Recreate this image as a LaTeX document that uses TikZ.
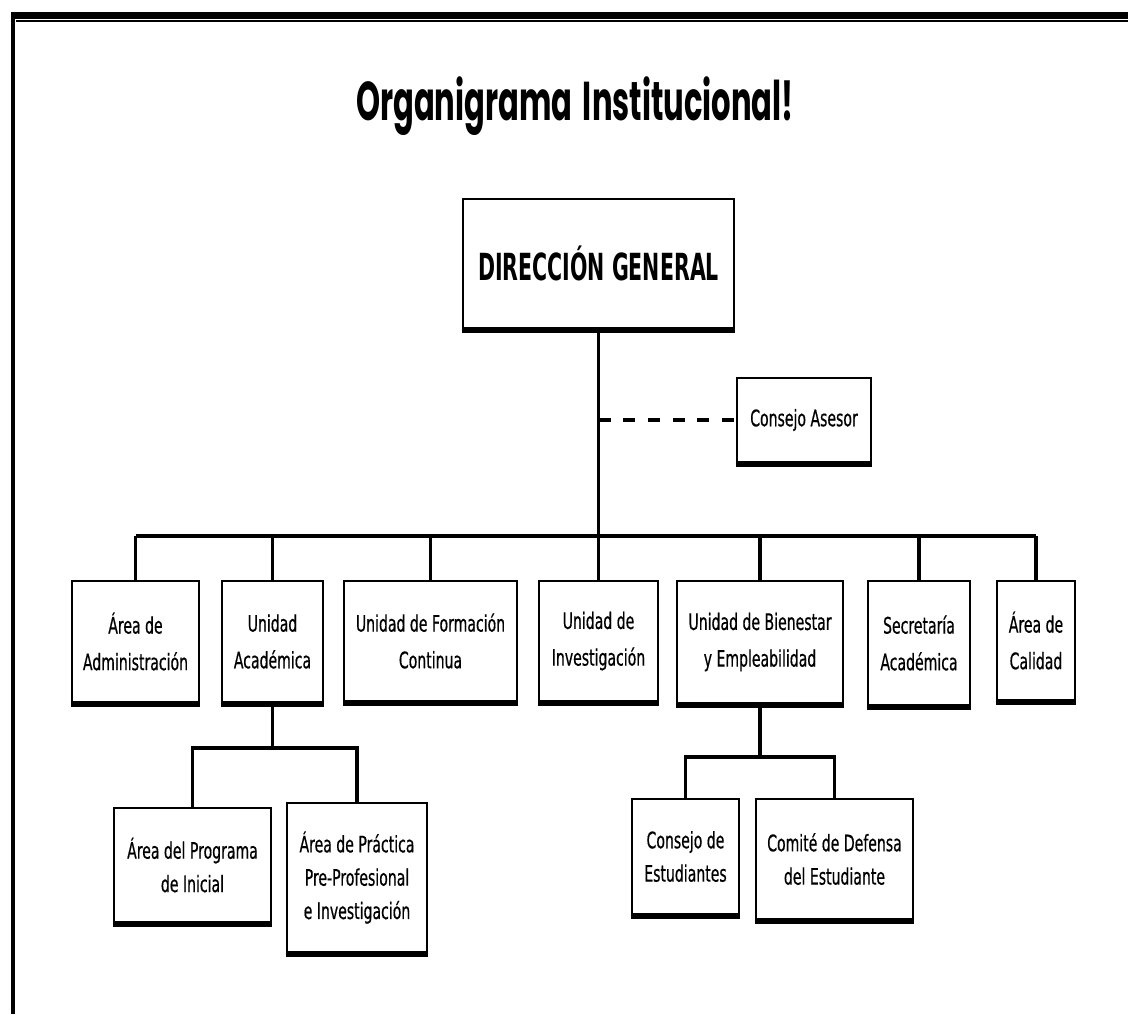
\documentclass[tikz,border=0pt]{standalone}
\usepackage{fontspec}
\newfontfamily\boxfont[FakeStretch=0.62,FakeBold=0.5]{DejaVu Sans}
\newfontfamily\headfont[FakeStretch=0.55]{DejaVu Sans}
\newfontfamily\titlefont[FakeStretch=0.56]{Poppins}
\begin{document}
\begin{tikzpicture}[x=0.75pt,y=-0.75pt,
  orgbox/.style={draw, line width=2.2pt, align=center, inner sep=0pt,
    font=\boxfont\fontsize{17}{25}\selectfont},
  rowbox/.style={orgbox, font=\boxfont\fontsize{17}{27.5}\selectfont},
  conn/.style={line width=2.6pt},
  busline/.style={line width=3.6pt},
  adviser/.style={line width=3.6pt, dash pattern=on 9pt off 9.5pt},
  baseedge/.style={line width=2.4pt}]
\useasboundingbox (0,0) rectangle (1128,1014);
\fill[white] (0,0) rectangle (1128,1014);

% page frame
\draw[line width=5.3pt] (13,15.5) -- (1128,15.5);
\draw[line width=1.2pt] (16,21) -- (1128,21);
\draw[line width=3.6pt] (13,12) -- (13,1014);

% title
\node[anchor=base, font=\titlefont\bfseries\fontsize{41}{48}\selectfont] (title) at (575,120) {Organigrama\hspace{3pt} Institucional!};

% top level
\node[orgbox, minimum width=271*0.75pt, minimum height=129*0.75pt,
  font=\headfont\bfseries\fontsize{28}{32}\selectfont] (dg) at (598.5,263.5) {DIRECCIÓN GENERAL};
\node[orgbox, minimum width=134*0.75pt, minimum height=84*0.75pt] (ca) at (804,420) {Consejo Asesor};

% second level
\node[rowbox, minimum width=127*0.75pt, minimum height=121*0.75pt] (adm) at (135.5,641.5) {Área de\\Administración};
\node[rowbox, minimum width=101*0.75pt, minimum height=121*0.75pt] (aca) at (272.5,641.5) {Unidad\\Académica};
\node[rowbox, minimum width=173*0.75pt, minimum height=120*0.75pt] (form) at (430.5,641) {Unidad de Formación\\Continua};
\node[rowbox, minimum width=119*0.75pt, minimum height=120*0.75pt] (inv) at (598.5,641) {Unidad de\\Investigación};
\node[rowbox, minimum width=166*0.75pt, minimum height=122*0.75pt] (bien) at (760,642) {Unidad de Bienestar\\y Empleabilidad};
\node[rowbox, minimum width=102*0.75pt, minimum height=124*0.75pt] (sec) at (919,643) {Secretaría\\Académica};
\node[rowbox, minimum width=78*0.75pt, minimum height=119*0.75pt] (cal) at (1036,640.5) {Área de\\Calidad};

% third level
\node[orgbox, minimum width=157*0.75pt, minimum height=114*0.75pt] (prog) at (192.5,865) {Área del Programa\\de Inicial};
\node[orgbox, minimum width=140*0.75pt, minimum height=149*0.75pt] (prac) at (357,877.5) {Área de Práctica\\Pre-Profesional\\e Investigación};
\node[orgbox, minimum width=107*0.75pt, minimum height=115*0.75pt] (est) at (685.5,856.5) {Consejo de\\Estudiantes};
\node[orgbox, minimum width=157*0.75pt, minimum height=120*0.75pt] (com) at (834.5,859) {Comité de Defensa\\del Estudiante};

% heavier lower edge on every box
\foreach \n in {dg,ca,adm,aca,form,inv,bien,sec,cal,prog,prac,est,com}
  \draw[baseedge] ([yshift=-1.2pt]\n.south west) -- ([yshift=-1.2pt]\n.south east);

% bus levels
\coordinate (bus) at (0,536);
\coordinate (subA) at (0,748);
\coordinate (subB) at (0,757);

% connectors
\draw[conn] (dg.south) -- (inv.north);
\draw[adviser] (dg.south |- ca.west) -- (ca.west);
\draw[busline] (adm.north |- bus) -- (cal.north |- bus);
\foreach \n in {adm,aca,form,bien,sec,cal}
  \draw[conn] (\n.north |- bus) -- (\n.north);

\draw[conn] (aca.south) -- (aca.south |- subA);
\draw[conn] (prog.north) -- (prog.north |- subA) -- (prac.north |- subA) -- (prac.north);
\draw[conn] (bien.south) -- (bien.south |- subB);
\draw[conn] (est.north) -- (est.north |- subB) -- (com.north |- subB) -- (com.north);
\end{tikzpicture}
\end{document}
